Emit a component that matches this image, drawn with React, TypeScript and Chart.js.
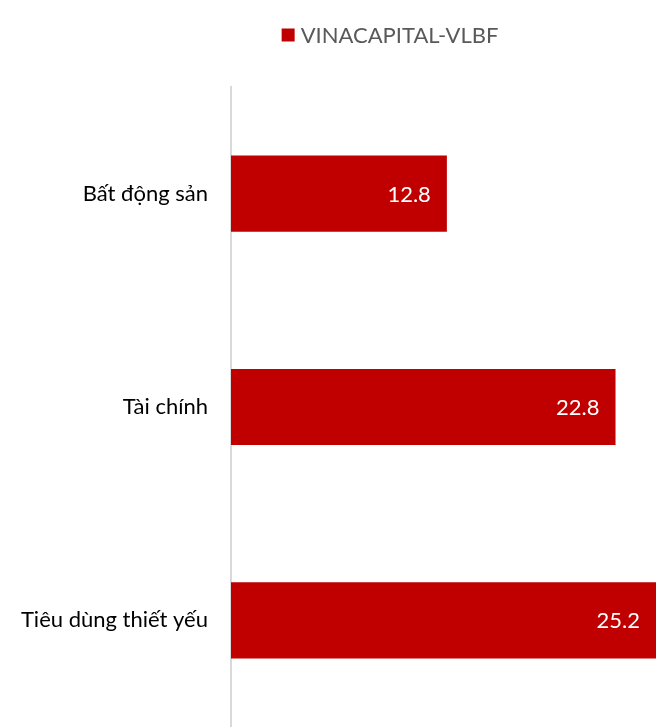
import React, { useEffect, useRef } from "react";
import { Chart, registerables } from "chart.js";

Chart.register(...registerables);

const categories = ["Bất động sản", "Tài chính", "Tiêu dùng thiết yếu"];
const seriesName = "VINACAPITAL-VLBF";
const values = [12.8, 22.8, 25.2];
const barColor = "#c00000";

const legendPlugin = {
  id: "customLegend",
  afterDraw(chart: any) {
    const ctx = chart.ctx;
    ctx.save();
    ctx.font = "22px Lato";
    const text = seriesName;
    const tw = ctx.measureText(text).width;
    const box = 13;
    const gap = 6;
    const total = box + gap + tw;
    const cx = 390;
    const x0 = cx - total / 2;
    const cy = 35;
    ctx.fillStyle = barColor;
    ctx.fillRect(x0, cy - box / 2, box, box);
    ctx.fillStyle = "#595959";
    ctx.textBaseline = "middle";
    ctx.textAlign = "left";
    ctx.fillText(text, x0 + box + gap, cy + 1);
    ctx.restore();
  },
};

const dataLabelPlugin = {
  id: "dataLabels",
  afterDatasetsDraw(chart: any) {
    const ctx = chart.ctx;
    const meta = chart.getDatasetMeta(0);
    ctx.save();
    ctx.font = "22px Lato";
    ctx.fillStyle = "#ffffff";
    ctx.textAlign = "right";
    ctx.textBaseline = "middle";
    meta.data.forEach((bar: any, i: number) => {
      const v = chart.data.datasets[0].data[i];
      const xEnd = Math.min(bar.x, chart.chartArea.right);
      ctx.fillText(String(v.toFixed(1)), xEnd - 16, bar.y + 1);
    });
    ctx.restore();
  },
};

export default function App() {
  const canvasRef = useRef<HTMLCanvasElement | null>(null);

  useEffect(() => {
    document.body.style.margin = "0";
    const chart = new Chart(canvasRef.current as HTMLCanvasElement, {
      type: "bar",
      data: {
        labels: categories,
        datasets: [
          {
            label: seriesName,
            data: values,
            backgroundColor: barColor,
            categoryPercentage: 1,
            barPercentage: 0.357,
          },
        ],
      },
      options: {
        indexAxis: "y",
        animation: false,
        responsive: false,
        maintainAspectRatio: false,
        layout: { padding: { top: 87, bottom: 0, left: 0, right: 0 } },
        plugins: {
          legend: { display: false },
          tooltip: { enabled: false },
          title: { display: false },
        },
        scales: {
          x: {
            display: false,
            min: 0,
            max: 25.2,
          },
          y: {
            grid: { display: false, drawTicks: false },
            border: { display: true, color: "#d9d9d9", width: 2 },
            ticks: {
              color: "#000000",
              font: { family: "Lato", size: 22 },
              padding: 23,
            },
            afterFit(scale: any) {
              scale.width = 231;
              scale.paddingTop = 0;
              scale.paddingBottom = 0;
            },
          },
        },
      },
      plugins: [legendPlugin, dataLabelPlugin],
    });
    return () => chart.destroy();
  }, []);

  return (
    <div style={{ width: 656, height: 727 }}>
      <canvas ref={canvasRef} width={656} height={727} style={{ display: "block" }} />
    </div>
  );
}
